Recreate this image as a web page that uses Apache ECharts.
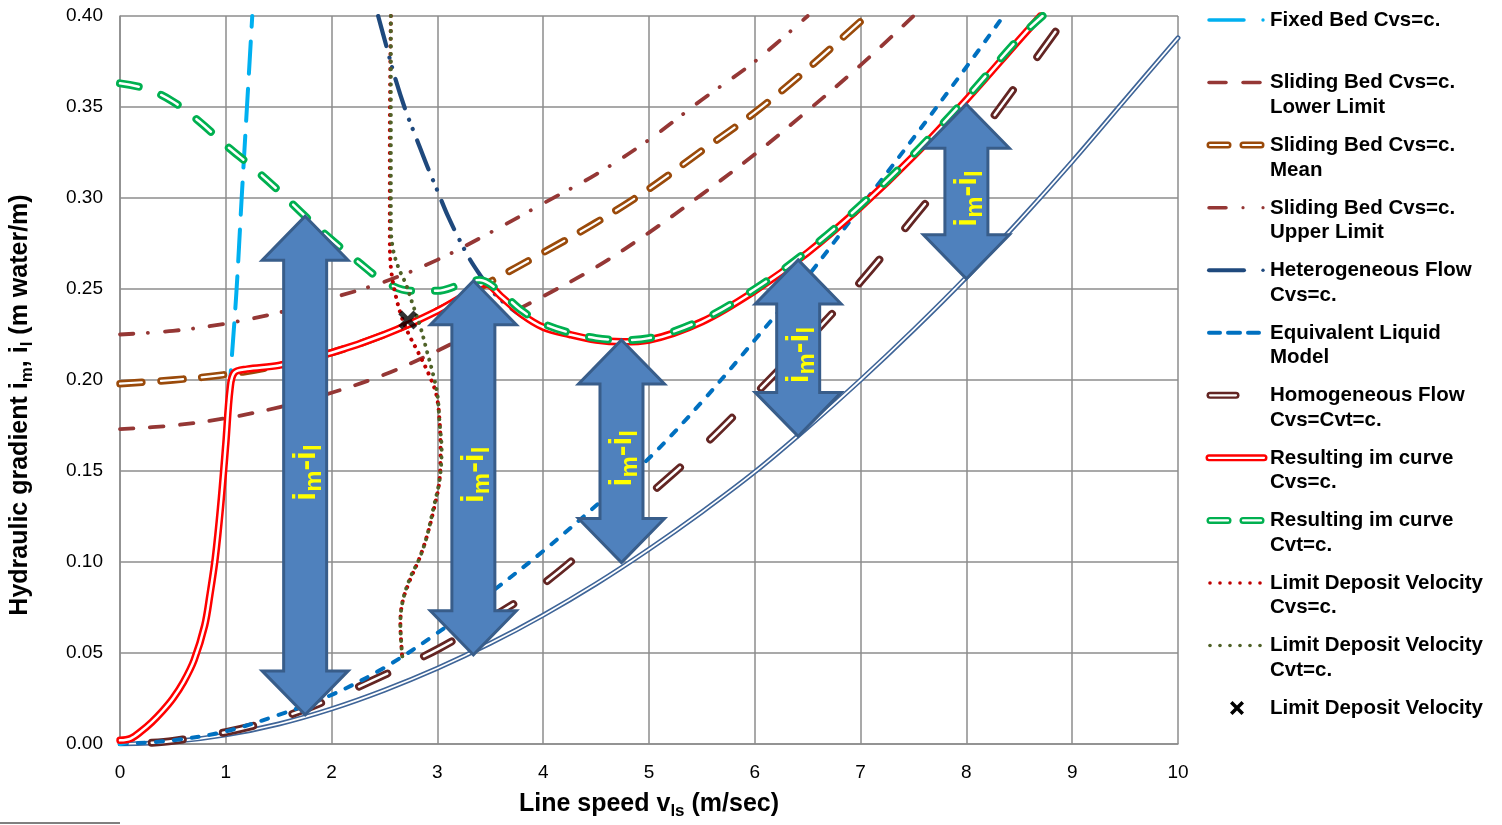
<!DOCTYPE html>
<html>
<head>
<meta charset="utf-8">
<script src="https://cdn.jsdelivr.net/npm/echarts@6/dist/echarts.min.js"></script>
<style>html,body{margin:0;padding:0;background:#fff;}#chart{width:1502px;height:825px;}</style>
</head>
<body>
<div id="chart"></div>
<script>
// ---------------- data ----------------
const X_MIN = 0, X_MAX = 10, X_STEP = 1;
const Y_MIN = 0, Y_MAX = 0.4, Y_STEP = 0.05;

const WATER = [[0,0],[0.5,0.0013],[1,0.005],[1.5,0.011],[2,0.0193],[2.5,0.0296],[3,0.0416],[3.5,0.0553],[4,0.0708],[4.5,0.088],[5,0.107],[5.5,0.1275],[6,0.1495],[6.5,0.174],[7,0.200],[7.5,0.2275],[8,0.2565],[8.5,0.2875],[9,0.32],[9.5,0.354],[10,0.388]];
const HOMOGENEOUS = [[0.3,0.0007],[0.5,0.0017],[1,0.0065],[1.5,0.014],[2,0.025],[2.5,0.038],[3,0.052],[3.5,0.069],[4,0.088],[4.5,0.112],[5,0.137],[5.5,0.163],[6,0.192],[6.5,0.222],[7,0.254],[7.5,0.289],[8,0.325],[8.5,0.364],[8.95,0.40]];
const EQUIV_LIQUID = [[0,0],[0.5,0.002],[1,0.007],[1.5,0.016],[2,0.027],[2.5,0.042],[3,0.061],[3.5,0.083],[4,0.106],[4.5,0.131],[5,0.157],[5.5,0.188],[6,0.222],[6.5,0.257],[7,0.295],[7.5,0.333],[8,0.372],[8.35,0.40]];
const FIXED_BED = [[0,0],[0.1,0.002],[0.2,0.006],[0.3,0.012],[0.4,0.018],[0.5,0.025],[0.6,0.034],[0.7,0.046],[0.8,0.065],[0.85,0.082],[0.9,0.102],[0.95,0.13],[1.0,0.165],[1.05,0.207],[1.1,0.248],[1.15,0.30],[1.2,0.35],[1.25,0.40]];
const SLIDING_LOWER = [[0,0.173],[0.5,0.175],[1,0.179],[1.5,0.185],[2,0.193],[2.5,0.203],[3,0.216],[3.5,0.231],[4,0.246],[4.5,0.262],[5,0.281],[5.5,0.302],[6,0.324],[6.5,0.348],[7,0.373],[7.5,0.40]];
const SLIDING_MEAN = [[0,0.198],[0.5,0.200],[1,0.203],[1.5,0.208],[2,0.215],[2.5,0.225],[3,0.238],[3.5,0.254],[4,0.270],[4.5,0.2865],[5,0.305],[5.5,0.326],[6,0.347],[6.5,0.371],[7,0.397],[7.06,0.40]];
const SLIDING_UPPER = [[0,0.225],[0.5,0.227],[1,0.231],[1.5,0.237],[2,0.245],[2.5,0.254],[3,0.266],[3.5,0.281],[4,0.297],[4.5,0.313],[5,0.332],[5.5,0.354],[6,0.375],[6.5,0.40]];
const HETEROGENEOUS = [[2.44,0.40],[2.52,0.383],[2.6,0.366],[2.7,0.348],[2.8,0.333],[2.9,0.318],[3.0,0.304],[3.1,0.29],[3.2,0.278],[3.3,0.267],[3.4,0.258],[3.5,0.25],[3.6,0.244],[3.8,0.235],[4.0,0.229],[4.25,0.225],[4.5,0.222],[4.75,0.221],[5.0,0.222],[5.5,0.232],[6.0,0.249],[6.5,0.27],[7.0,0.295],[7.5,0.323],[8.0,0.354],[8.5,0.387],[8.7,0.40]];
const RESULT_CVS = [[0,0.002],[0.1,0.003],[0.2,0.007],[0.3,0.012],[0.4,0.018],[0.5,0.025],[0.6,0.034],[0.7,0.046],[0.8,0.065],[0.85,0.082],[0.9,0.102],[0.95,0.13],[1.0,0.165],[1.04,0.195],[1.08,0.204],[1.2,0.206],[1.5,0.208],[2,0.215],[2.5,0.225],[3,0.238],[3.3,0.248],[3.45,0.253],[3.6,0.246],[3.8,0.236],[4,0.229],[4.25,0.225],[4.5,0.222],[4.75,0.221],[5,0.222],[5.5,0.232],[6,0.249],[6.5,0.27],[7,0.295],[7.5,0.323],[8,0.354],[8.5,0.387],[8.7,0.40]];
const RESULT_CVT = [[0,0.363],[0.25,0.360],[0.5,0.353],[0.75,0.342],[1,0.329],[1.25,0.317],[1.5,0.304],[1.75,0.29],[2,0.277],[2.25,0.265],[2.5,0.254],[2.75,0.249],[3,0.249],[3.2,0.252],[3.4,0.255],[3.6,0.248],[3.8,0.238],[4,0.231],[4.25,0.226],[4.5,0.223],[4.75,0.222],[5,0.223],[5.5,0.233],[6,0.25],[6.5,0.271],[7,0.296],[7.5,0.324],[8,0.355],[8.5,0.388],[8.72,0.40]];
const LDV_CVS = [[2.56,0.40],[2.55,0.33],[2.55,0.28],[2.56,0.262],[2.6,0.248],[2.66,0.235],[2.73,0.225],[2.82,0.215],[2.92,0.203],[2.99,0.192],[3.02,0.178],[3.03,0.162],[3.02,0.145],[2.97,0.13],[2.9,0.114],[2.83,0.102],[2.74,0.09],[2.67,0.078],[2.65,0.066],[2.66,0.054],[2.67,0.046]];
const LDV_CVT = [[2.56,0.40],[2.56,0.33],[2.56,0.285],[2.58,0.272],[2.63,0.262],[2.7,0.253],[2.77,0.241],[2.84,0.229],[2.9,0.216],[2.96,0.203],[3.0,0.192],[3.02,0.177],[3.04,0.162],[3.02,0.145],[2.96,0.129],[2.9,0.114],[2.83,0.102],[2.74,0.091],[2.67,0.078],[2.65,0.066],[2.66,0.054],[2.67,0.047]];
const LDV_POINT = [[2.72,0.233]];
// double arrows "im - il": [x, top y, bottom y]
const ARROWS = [[1.75,0.29,0.016],[3.34,0.2545,0.049],[4.74,0.222,0.0997],[6.41,0.266,0.169],[8.0,0.3515,0.2556]];

const LEGEND_NAMES = [
  'Fixed Bed Cvs=c.',
  'Sliding Bed Cvs=c.\nLower Limit',
  'Sliding Bed Cvs=c.\nMean',
  'Sliding Bed Cvs=c.\nUpper Limit',
  'Heterogeneous Flow\nCvs=c.',
  'Equivalent Liquid\nModel',
  'Homogeneous Flow\nCvs=Cvt=c.',
  'Resulting im curve\nCvs=c.',
  'Resulting im curve\nCvt=c.',
  'Limit Deposit Velocity\nCvs=c.',
  'Limit Deposit Velocity\nCvt=c.',
  'Limit Deposit Velocity'
];

// ---------------- styles ----------------
const FONT = '"Liberation Sans", Arial, sans-serif';
const C = {
  fixed:'#00B0F0', limit:'#953735', mean:'#9A4A0A', het:'#1F497D', elm:'#0070C0',
  homog:'#632523', rcvs:'#FF0000', rcvt:'#00B050', ldvs:'#C00000', ldvt:'#4F6228',
  water:'#3F6598', grid:'#8C8C8C', arrowFill:'#4F81BD', arrowStroke:'#385D8A'
};

const series = [];
function addLine(name, data, color, width, dash, inner) {
  const base = {type:'line', name:name, data:data, symbol:'none', showSymbol:false, smooth:0.35,
                silent:true, animation:false, clip:true};
  series.push(Object.assign({}, base, {lineStyle:{color:color, width:width, type:dash||'solid', cap:'round', join:'round'}}));
  if (inner) {
    series.push(Object.assign({}, base, {name:name+' (inner)', lineStyle:{color:'#ffffff', width:inner, type:dash||'solid', cap:'round', join:'round'}}));
  }
}

addLine('Water', WATER, C.water, 5, 'solid', 1.7);
addLine('Homogeneous Flow Cvs=Cvt=c.', HOMOGENEOUS, C.homog, 8, [31,41], 2.5);
addLine('Equivalent Liquid Model', EQUIV_LIQUID, C.elm, 4, [7,11]);
addLine('Sliding Bed Cvs=c. Lower Limit', SLIDING_LOWER, C.limit, 3.8, [13.5,16.5]);
addLine('Sliding Bed Cvs=c. Upper Limit', SLIDING_UPPER, C.limit, 3.8, [13.5,14.5,0.1,17]);
addLine('Sliding Bed Cvs=c. Mean', SLIDING_MEAN, C.mean, 7.5, [22,19], 2.2);
addLine('Fixed Bed Cvs=c.', FIXED_BED, C.fixed, 4, [32,15]);
addLine('Heterogeneous Flow Cvs=c.', HETEROGENEOUS, C.het, 4.2, [31,12,0.1,10,0.1,12]);
addLine('Resulting im curve Cvs=c.', RESULT_CVS, C.rcvs, 7.5, 'solid', 2.5);
addLine('Resulting im curve Cvt=c.', RESULT_CVT, C.rcvt, 8, [19,24], 2.5);
addLine('Limit Deposit Velocity Cvs=c.', LDV_CVS, C.ldvs, 4, [0.1,7.5]);
addLine('Limit Deposit Velocity Cvt=c.', LDV_CVT, C.ldvt, 4, [0.1,7.5]);

const SUB_STYLE = {fontFamily:FONT, fontWeight:'bold', fontSize:17, padding:[10,0,0,0], verticalAlign:'bottom', color:'#000'};

series.push({
  type:'custom', name:'im-il arrows', data:ARROWS, silent:true, animation:false, z:5,
  encode:{x:0, y:[1,2]},
  renderItem:function(params, api){
    const x = api.value(0);
    const top = api.coord([x, api.value(1)]);
    const bot = api.coord([x, api.value(2)]);
    const cx = top[0], hw = 43, sw = 21.5, hl = 44;
    const t = top[1], b = bot[1];
    const pts = [[cx,t],[cx+hw,t+hl],[cx+sw,t+hl],[cx+sw,b-hl],[cx+hw,b-hl],[cx,b],
                 [cx-hw,b-hl],[cx-sw,b-hl],[cx-sw,t+hl],[cx-hw,t+hl]];
    return {type:'group', children:[
      {type:'polygon', shape:{points:pts}, style:{fill:C.arrowFill, stroke:C.arrowStroke, lineWidth:3, lineJoin:'miter'}},
      {type:'text', x:cx+3, y:(t+b)/2+7, rotation:Math.PI/2,
       style:{text:'{a|i}{b|m}{a|-i}{b|l}', align:'center', verticalAlign:'middle', fill:'#FFFF00',
              rich:{a:{fontFamily:FONT, fontWeight:'bold', fontSize:32, fill:'#FFFF00', lineHeight:36, verticalAlign:'top'},
                    b:{fontFamily:FONT, fontWeight:'bold', fontSize:24, fill:'#FFFF00', lineHeight:25, padding:[20,0,0,0], verticalAlign:'bottom'}}}}
    ]};
  }
});

series.push({
  type:'scatter', name:'Limit Deposit Velocity', data:LDV_POINT, silent:true, animation:false, z:6,
  symbol:'path://M0,4 L4,0 L10,6 L16,0 L20,4 L14,10 L20,16 L16,20 L10,14 L4,20 L0,16 L6,10 Z',
  symbolSize:19, itemStyle:{color:'#000'}
});

// ---------------- legend (drawn as graphic) ----------------
const LEG_TEXT_X = 1270, LEG_Y0 = 20, LEG_STEP = 62.55;
function legendIcon(i, cy) {
  const els = [];
  function seg(x1, x2, color, w, inner) {
    els.push({type:'line', shape:{x1:x1, y1:cy, x2:x2, y2:cy}, style:{stroke:color, lineWidth:w, lineCap:'round'}, silent:true});
    if (inner) els.push({type:'line', shape:{x1:x1, y1:cy, x2:x2, y2:cy}, style:{stroke:'#fff', lineWidth:inner, lineCap:'round'}, silent:true});
  }
  function dot(x, color, r) { els.push({type:'circle', shape:{cx:x, cy:cy, r:r}, style:{fill:color}, silent:true}); }
  switch (i) {
    case 0: seg(1209,1244,C.fixed,3.5); dot(1263,C.fixed,1.7); break;
    case 1: seg(1209,1226,C.limit,3.5); seg(1243,1260,C.limit,3.5); break;
    case 2: seg(1210,1228,C.mean,7,2); seg(1243,1261,C.mean,7,2); break;
    case 3: seg(1209,1226,C.limit,3.5); dot(1243,C.limit,1.6); dot(1263,C.limit,1.6); break;
    case 4: seg(1209,1244,C.het,4); dot(1263,C.het,1.7); break;
    case 5: seg(1209,1220,C.elm,4); seg(1228,1240,C.elm,4); seg(1248,1259,C.elm,4); break;
    case 6: seg(1210,1236,C.homog,7,2.2); break;
    case 7: seg(1209,1264,C.rcvs,7,2.2); break;
    case 8: seg(1210,1228,C.rcvt,7,2.2); seg(1243,1261,C.rcvt,7,2.2); break;
    case 9: for (let x=1210;x<=1260;x+=10) dot(x,C.ldvs,1.8); break;
    case 10: for (let x=1210;x<=1260;x+=10) dot(x,C.ldvt,1.8); break;
    case 11: {
      const cx = 1237;
      const p = [[-7,-4.5],[-4.5,-7],[0,-2.5],[4.5,-7],[7,-4.5],[2.5,0],[7,4.5],[4.5,7],[0,2.5],[-4.5,7],[-7,4.5],[-2.5,0]]
        .map(function(q){ return [cx+q[0], cy+q[1]]; });
      els.push({type:'polygon', shape:{points:p}, style:{fill:'#000'}, silent:true});
      break;
    }
  }
  return els;
}
const graphics = [];
LEGEND_NAMES.forEach(function(name, i){
  const cy = LEG_Y0 + i*LEG_STEP;
  legendIcon(i, cy).forEach(function(e){ graphics.push(e); });
  graphics.push({type:'text', x:LEG_TEXT_X, y:cy-12, silent:true,
    style:{text:name, font:'bold 20.5px ' + FONT, fill:'#000', lineHeight:24.5,
           align:'left', verticalAlign:'top', textAlign:'left', textVerticalAlign:'top'}});
});
graphics.push({type:'line', shape:{x1:0, y1:823, x2:120, y2:823}, style:{stroke:'#000', lineWidth:1}, silent:true});

// ---------------- chart ----------------
const chart = echarts.init(document.getElementById('chart'));
chart.setOption({
  animation:false,
  backgroundColor:'#ffffff',
  grid:{left:120, right:324, top:16, bottom:75, containLabel:false},
  xAxis:{
    type:'value', min:X_MIN, max:X_MAX, interval:X_STEP,
    axisLine:{show:true, onZero:false, lineStyle:{color:C.grid, width:1.5}},
    axisTick:{show:false},
    splitLine:{show:true, lineStyle:{color:C.grid, width:1.5}},
    axisLabel:{color:'#000', fontFamily:FONT, fontSize:19, margin:19},
    name:'{m|Line speed v}{s|ls}{m| (m/sec)}', nameLocation:'middle', nameGap:48,
    nameTextStyle:{rich:{m:{fontFamily:FONT, fontWeight:'bold', fontSize:25, color:'#000', verticalAlign:'top', lineHeight:28}, s:SUB_STYLE}}
  },
  yAxis:{
    type:'value', min:Y_MIN, max:Y_MAX, interval:Y_STEP,
    axisLine:{show:true, lineStyle:{color:C.grid, width:1.5}},
    axisTick:{show:false},
    splitLine:{show:true, lineStyle:{color:C.grid, width:1.5}},
    axisLabel:{color:'#000', fontFamily:FONT, fontSize:19, margin:17, formatter:function(v){return v.toFixed(2);}},
    name:'{m|Hydraulic gradient i}{s|m}{m|, i}{s|l}{m| (m water/m)}', nameLocation:'middle', nameGap:84,
    nameTextStyle:{padding:[0,50,0,0], rich:{m:{fontFamily:FONT, fontWeight:'bold', fontSize:25, color:'#000', verticalAlign:'top', lineHeight:28}, s:SUB_STYLE}}
  },
  series:series,
  graphic:graphics
});
</script>
</body>
</html>
